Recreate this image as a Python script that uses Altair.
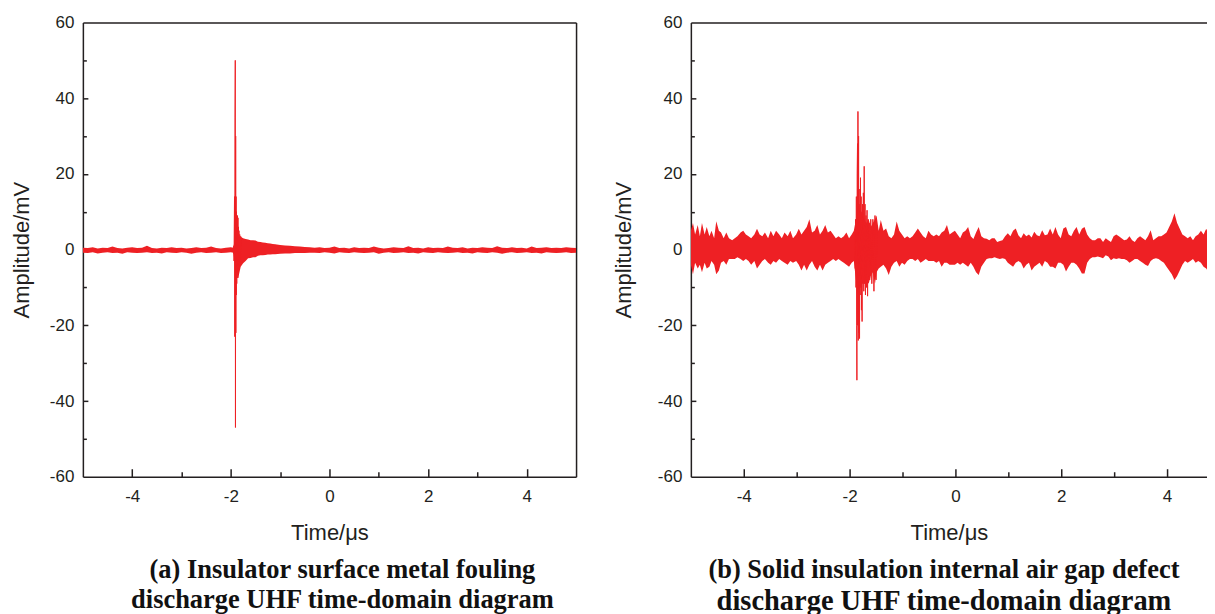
import altair as alt
import pandas as pd

RED = "#EE2024"
INK = "#231F20"
SANS = "Liberation Sans, Arial, Helvetica, sans-serif"
SERIF = "Liberation Serif, Times New Roman, serif"

# ---------------- Panel (a): insulator surface metal fouling ----------------
a_env_t = [-5.0, -4.9, -4.8, -4.7, -4.6, -4.5, -4.4, -4.3, -4.2, -4.1,
           -4.0, -3.9, -3.8, -3.7, -3.6, -3.5, -3.4, -3.3, -3.2, -3.1,
           -3.0, -2.9, -2.8, -2.7, -2.6, -2.5, -2.4, -2.3, -2.2, -2.1,
           -2.0,
           -1.95, -1.9, -1.85, -1.8, -1.75, -1.7, -1.65, -1.6, -1.55, -1.5,
           -1.45, -1.4, -1.35, -1.3, -1.25, -1.2, -1.15, -1.1,
           -1.0, -0.9, -0.8, -0.7, -0.6, -0.5, -0.4,
           -0.3, -0.2, -0.1, 0.0, 0.1, 0.2, 0.3, 0.4, 0.5, 0.6,
           0.7, 0.8, 0.9, 1.0, 1.1, 1.2, 1.3, 1.4, 1.5, 1.6,
           1.7, 1.8, 1.9, 2.0, 2.1, 2.2, 2.3, 2.4, 2.5, 2.6,
           2.7, 2.8, 2.9, 3.0, 3.1, 3.2, 3.3, 3.4, 3.5, 3.6,
           3.7, 3.8, 3.9, 4.0, 4.1, 4.2, 4.3, 4.4, 4.5, 4.6,
           4.7, 4.8, 4.9, 5.0]
a_env_hi = [0.5, 0.4, 0.6, 0.3, 0.5, 0.4, 0.8, 0.4, 0.3, 0.5,
            0.6, 0.4, 0.5, 1.0, 0.4, 0.3, 0.5, 0.4, 0.6, 0.4,
            0.5, 0.3, 0.4, 0.6, 0.4, 0.5, 0.8, 0.4, 0.3, 0.5,
            0.6,
            0.5, 4.0, 3.5, 3.4, 3.0, 2.8, 2.7, 2.5, 2.5, 2.4,
            2.1, 2.0, 1.9, 1.8, 1.7, 1.6, 1.5, 1.4,
            1.2, 1.1, 1.0, 0.9, 0.8, 0.7, 0.6,
            0.5, 0.6, 0.4, 0.5, 0.8, 0.4, 0.5, 0.3, 0.6, 0.4,
            0.5, 0.4, 0.8, 0.5, 0.3, 0.4, 0.6, 0.5, 0.4, 0.9,
            0.4, 0.5, 0.3, 0.6, 0.4, 0.5, 0.4, 0.8, 0.5, 0.4,
            0.6, 0.3, 0.5, 0.4, 0.6, 0.5, 0.4, 0.9, 0.5, 0.4,
            0.6, 0.4, 0.5, 0.3, 0.8, 0.4, 0.5, 0.6, 0.4, 0.5,
            0.4, 0.6, 0.5, 0.4]
a_env_lo = [-0.8, -0.9, -0.7, -1.0, -0.8, -0.7, -0.9, -0.8, -1.1, -0.7,
            -0.8, -0.9, -0.8, -0.7, -0.9, -0.8, -1.0, -0.7, -0.8, -0.9,
            -0.7, -0.8, -1.1, -0.8, -0.7, -0.9, -0.8, -0.7, -0.9, -0.8,
            -0.7,
            -0.8, -5.0, -7.5, -4.5, -3.6, -3.0, -2.3, -2.2, -2.0, -2.0,
            -1.6, -1.5, -1.5, -1.4, -1.3, -1.3, -1.2, -1.2,
            -1.1, -1.0, -1.0, -0.9, -0.9, -0.9, -0.8,
            -0.8, -0.9, -0.7, -0.8, -1.0, -0.7, -0.8, -0.9, -0.7, -0.8,
            -0.9, -0.8, -0.7, -1.1, -0.8, -0.7, -0.9, -0.8, -0.7, -0.9,
            -0.8, -1.0, -0.7, -0.8, -0.9, -0.7, -0.8, -0.9, -0.8, -0.7,
            -0.9, -0.8, -1.0, -0.7, -0.8, -0.9, -0.7, -0.8, -1.1, -0.8,
            -0.7, -0.9, -0.8, -0.7, -0.9, -0.8, -1.0, -0.7, -0.8, -0.9,
            -0.8, -0.7, -0.9, -0.8]
a_spk_t = [-1.950, -1.945, -1.940, -1.935, -1.930, -1.925, -1.920, -1.915,
           -1.910, -1.906, -1.902, -1.898, -1.894, -1.890, -1.885, -1.880,
           -1.875, -1.870, -1.865, -1.860, -1.855, -1.850, -1.845, -1.840,
           -1.835, -1.830, -1.820, -1.810, -1.800, -1.790]
a_spk_v = [0.5, -1.0, 1.0, -3.0, 6.0, 14.0, -23.0, 35.0,
           50.0, -47.0, 30.0, -22.0, 14.0, -12.0, 10.0, -9.0,
           8.0, -6.0, 9.0, -7.5, 8.4, -6.0, 6.0, -5.0,
           5.0, -4.0, 4.0, -3.5, 3.5, -3.0]

# ---------------- Panel (b): solid insulation internal air gap ----------------
b_env_t = [-5.00, -4.96, -4.92, -4.87, -4.83, -4.79, -4.74, -4.70, -4.65, -4.61,
           -4.56, -4.52, -4.47, -4.43, -4.38, -4.33, -4.28, -4.22, -4.17, -4.12,
           -4.06, -4.01, -3.96, -3.91, -3.86, -3.80, -3.75, -3.70, -3.65, -3.60,
           -3.54, -3.49, -3.44, -3.39, -3.33, -3.28, -3.23, -3.17, -3.12, -3.07,
           -3.01, -2.96, -2.91, -2.86, -2.81, -2.76, -2.71, -2.66, -2.61, -2.56,
           -2.51, -2.46, -2.41, -2.36, -2.31, -2.26, -2.21, -2.16, -2.11, -2.06,
           -2.01, -1.96, -1.92, -1.88, -1.84, -1.80, -1.76, -1.72, -1.68, -1.64,
           -1.60, -1.56, -1.52, -1.49, -1.45, -1.41, -1.36, -1.31, -1.26, -1.21,
           -1.16, -1.11, -1.06, -1.01, -0.96, -0.91, -0.86, -0.81, -0.76, -0.71,
           -0.66, -0.61, -0.56, -0.51, -0.46, -0.41, -0.36, -0.31, -0.26, -0.21,
           -0.16, -0.11, -0.06,
           -0.01, 0.04, 0.09, 0.14, 0.19, 0.24, 0.29, 0.34, 0.39, 0.44,
           0.49, 0.54, 0.59, 0.64, 0.69, 0.74, 0.79, 0.84, 0.89, 0.94,
           0.99, 1.04, 1.09, 1.14, 1.19, 1.24, 1.29, 1.34, 1.39, 1.44,
           1.49, 1.54, 1.59, 1.64, 1.69, 1.74, 1.79, 1.84, 1.89, 1.94,
           1.99, 2.04, 2.09, 2.14, 2.19, 2.24, 2.29, 2.34, 2.39, 2.44,
           2.49, 2.54, 2.59, 2.64, 2.69, 2.74, 2.79, 2.84, 2.89, 2.94,
           2.99, 3.04, 3.09, 3.14, 3.19, 3.24, 3.29, 3.34, 3.39, 3.44,
           3.49, 3.54, 3.59, 3.64, 3.69, 3.74, 3.79, 3.84, 3.89, 3.94,
           3.99, 4.04, 4.09, 4.14, 4.19, 4.24, 4.29, 4.34, 4.39, 4.44,
           4.49, 4.54, 4.59, 4.64, 4.69, 4.74, 4.79, 4.84, 4.89]
b_env_hi = [5, 7, 4, 6.5, 3.5, 7, 4, 6, 3.5, 5,
            3, 7.5, 5, 4.5, 3, 4.5, 3, 2.5, 3, 3.5,
            4.5, 5, 4, 3.5, 3, 4, 5.5, 4, 3.5, 4.5,
            3, 5, 3.5, 5, 4, 3, 4.5, 3.5, 5, 3,
            4, 5.5, 4, 5, 6, 8, 4.5, 5, 6.5, 4,
            5, 6.5, 4.5, 5, 4, 3, 3.5, 3, 3.5, 4.5,
            3, 4, 5, 8, 12, 10, 9, 8, 7, 8,
            6, 7, 8, 9, 5, 7.8, 5, 5.6, 3.5, 3,
            4, 7.4, 5, 4, 3, 3.5, 3, 3.5, 4.5, 5.6,
            4.5, 3.5, 3, 5, 4, 3.5, 4, 3.5, 4.5, 5,
            6.5, 4, 4.5,
            5, 4, 3, 4.5, 5, 6, 3.5, 2.8, 4.5, 6,
            3.5, 3, 2.9, 2.5, 3, 3, 2, 2.3, 2.5, 3.5,
            4.3, 3.5, 5, 5.6, 3.8, 3, 4.3, 3.5, 4, 3.2,
            4.7, 3.8, 3.5, 5.1, 3.8, 4, 5.6, 4, 6, 4,
            3, 5.6, 6, 4, 3.5, 5, 6, 4, 5.5, 6,
            4, 3, 2.5, 2.5, 3, 3, 2, 3, 2.5, 2,
            3.5, 4, 3.5, 3, 2.5, 2.7, 3.5, 2.5, 2, 3,
            3.5, 3, 2.5, 3.5, 5.1, 2.5, 3, 3.5, 3.5, 4,
            4.5, 6, 7.4, 9.6, 7, 5.5, 4, 3.5, 3, 3.5,
            2.5, 3.5, 4, 5, 4, 5.5, 4, 6, 5]
b_env_lo = [-4, -6.5, -3.5, -5, -4, -6, -3.5, -5, -4.5, -3,
            -4, -6.5, -5.5, -3.5, -3, -4, -2.5, -2.5, -2.5, -2,
            -2.5, -3, -2.5, -3, -4, -3, -5, -4, -3, -2.5,
            -3.5, -4, -3, -3.5, -2.5, -3, -3.5, -4, -3, -3.5,
            -3, -4, -5.5, -4, -5.5, -4, -3, -4.5, -5.5, -4,
            -5.5, -4, -3.5, -3, -2.5, -3, -2.5, -3, -3.5, -4,
            -4.5, -3.5, -3, -8, -12, -10, -9, -9, -8, -9,
            -7, -6, -9, -6, -5, -4.5, -4, -5, -6.7, -4.5,
            -3.5, -3, -4.5, -3.5, -4, -3, -2.5, -2.5, -3, -2.5,
            -3.5, -3, -2.5, -3, -3, -3, -3.5, -3, -4.5, -3.5,
            -3.5, -4, -4,
            -4, -3.5, -4, -3.5, -4, -4.5, -3.5, -4.5, -6, -6.7,
            -4.5, -3.5, -2.5, -2.3, -2.3, -2, -2.3, -2.5, -2.3, -2.5,
            -3.5, -4, -4.5, -3.5, -3, -3.5, -5, -4, -3.5, -5.5,
            -4.5, -4, -3.5, -4.5, -3, -3.5, -4.5, -4.5, -5, -3.5,
            -3.5, -4, -5.8, -4.5, -3.5, -3.5, -4, -5, -6.3, -6.3,
            -3.5, -2.5, -2, -2, -1.8, -2, -2.3, -1.5, -1.8, -2.8,
            -2.3, -2.5, -2.3, -2.5, -2.5, -2.8, -3.5, -3, -2.5, -2.5,
            -3, -3.5, -4, -4.3, -3, -2.5, -2.3, -2.5, -3, -3.5,
            -4.5, -5.5, -6.5, -8, -7, -5.5, -4, -3, -3.5, -3,
            -2.5, -3.5, -3, -3.5, -4.5, -5, -6, -5, -4.5]
b_spk_t = [-1.900, -1.893, -1.886, -1.879, -1.872, -1.866, -1.862, -1.857,
           -1.850, -1.846, -1.842, -1.836, -1.830, -1.824, -1.818, -1.812,
           -1.806, -1.800, -1.794, -1.788, -1.782, -1.776, -1.770, -1.764,
           -1.756, -1.748, -1.740, -1.732, -1.724, -1.716, -1.708, -1.700,
           -1.690, -1.680, -1.670, -1.660, -1.650, -1.640, -1.630, -1.620,
           -1.600, -1.580, -1.560, -1.540, -1.520, -1.500, -1.480]
b_spk_v = [3, -5, 8, -10, 14, -20, -34.5, 20,
           28, -20, 36.5, -24, 30, -22, 12, -23.5,
           16, -12, 19, -10, 14, -16, 10, -19,
           12, -8, 15, -11, 22, -9, 12, -12,
           9, -10, 10.4, -12.3, 8, -7, 7, -8,
           8, -9, 8, -11, 9, -8, 6]

# ---------------- axes ----------------
x_major = [-4, -2, 0, 2, 4]
x_minor = [-3, -1, 1, 3]
y_labels = [-60, -40, -20, 0, 20, 40, 60]
y_major = [-40, -20, 0, 20, 40]
y_minor = [-50, -30, -10, 10, 30, 50]

caption_a = ["(a) Insulator surface metal fouling",
             "discharge UHF time-domain diagram"]
caption_b = ["(b) Solid insulation internal air gap defect",
             "\u00a0\u00a0\u00a0\u00a0discharge UHF time-domain diagram"]


def panel(env_df, spk_df, width, xmax, caption, cap1, cap2, cap_dx, ytitle_pad, right_frame):
    xs = alt.Scale(domain=[-5, xmax], nice=False, zero=False)
    ys = alt.Scale(domain=[-60, 60], nice=False, zero=False)
    lab = dict(grid=False, labelFont=SANS, labelFontSize=17, labelColor=INK,
               titleFont=SANS, titleFontSize=22, titleColor=INK,
               titleFontWeight="normal", domainColor=INK, domainWidth=1.5,
               labelExpr="'' + datum.value")
    band = alt.Chart(env_df).mark_area(color=RED, clip=True, interpolate="linear").encode(
        x=alt.X("t:Q", scale=xs,
                axis=alt.Axis(orient="bottom", values=x_major, ticks=False,
                              labelPadding=12, title="Time/μs", titlePadding=18, **lab)),
        y=alt.Y("lo:Q", scale=ys,
                axis=alt.Axis(orient="left", values=y_labels, ticks=False,
                              labelPadding=9, title="Amplitude/mV",
                              titlePadding=ytitle_pad, **lab)),
        y2="hi:Q",
    )
    tick = dict(labels=False, domain=False, grid=False, ticks=True,
                tickColor=INK, tickWidth=1.5, title=None)
    spike = alt.Chart(spk_df).mark_line(color=RED, strokeWidth=1, clip=True).encode(
        x=alt.X("t:Q", scale=xs,
                axis=alt.Axis(orient="bottom", values=x_major, tickSize=8, offset=-8, **tick)),
        y=alt.Y("v:Q", scale=ys,
                axis=alt.Axis(orient="left", values=y_major, tickSize=5, offset=-5, **tick)),
    )
    minor = alt.Chart(spk_df).mark_point(opacity=0).encode(
        x=alt.X("t:Q", scale=xs,
                axis=alt.Axis(orient="bottom", values=x_minor, tickSize=5, offset=-5, **tick)),
        y=alt.Y("v:Q", scale=ys,
                axis=alt.Axis(orient="left", values=y_minor, tickSize=3.5, offset=-3.5, **tick)),
    )
    frame_axis = dict(labels=False, ticks=False, grid=False, domain=True,
                      domainColor=INK, domainWidth=1.5, title=None)
    if right_frame:
        yframe = alt.Y("v:Q", scale=ys, axis=alt.Axis(orient="right", **frame_axis))
    else:
        yframe = alt.Y("v:Q", scale=ys, axis=None)
    frame = alt.Chart(spk_df).mark_point(opacity=0).encode(
        x=alt.X("t:Q", scale=xs, axis=alt.Axis(orient="top", **frame_axis)),
        y=yframe,
    )
    return alt.layer(band, spike, minor, frame).resolve_axis(
        x="independent", y="independent"
    ).properties(
        width=width, height=455,
        title=alt.TitleParams(text=caption[0], subtitle=caption[1],
                              orient="bottom", anchor="middle",
                              font=SERIF, fontSize=cap1, fontWeight="bold",
                              color="#111111",
                              subtitleFont=SERIF, subtitleFontSize=cap2,
                              subtitleFontWeight="bold", subtitleColor="#111111",
                              subtitlePadding=4, offset=13, dx=cap_dx),
    )


env_a = pd.DataFrame({"t": a_env_t, "hi": a_env_hi, "lo": a_env_lo})
spk_a = pd.DataFrame({"t": a_spk_t, "v": a_spk_v})
env_b = pd.DataFrame({"t": b_env_t, "hi": b_env_hi, "lo": b_env_lo})
spk_b = pd.DataFrame({"t": b_spk_t, "v": b_spk_v})

left = panel(env_a, spk_a, 494, 5.0, caption_a, 26.5, 26.5, 13, 16, True)
right = panel(env_b, spk_b, 517, 4.755, caption_b, 26.5, 28.5, -5, 22, False)

chart = alt.hconcat(left, right, spacing=36).properties(
    padding={"left": 2, "top": 5, "right": 0, "bottom": 0}
).configure_view(strokeOpacity=0)

chart.save("out.html", embed_options={"renderer": "svg", "actions": False})
